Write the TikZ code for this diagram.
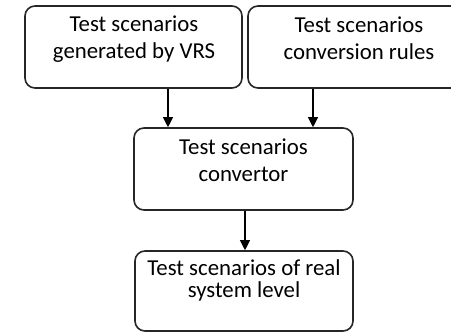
\documentclass[tikz,border=0pt]{standalone}
\usepackage{fontspec}
\setmainfont{Carlito}
\usepackage{tikz}
\usetikzlibrary{positioning}
\usetikzlibrary{arrows.meta}
\tikzset{stage/.style={ % Sets the properties for each box
			draw=black!85,
			line width=1.6pt,
			rounded corners=10pt,
			inner sep=0pt},
		stagetext/.style={
			anchor=north,
			inner sep=0pt,
			align=center,
			font=\fontsize{22.8}{27}\selectfont},
		flow/.style={
			draw,
			-{Triangle[length=10pt,width=10pt]},
			line width=1.1pt}}

\begin{document}
\begin{tikzpicture}[x=1pt,y=-1pt]
			\useasboundingbox (0,0) rectangle (451,333);
			\clip (0,0) rectangle (451,333);
			\node[stage, minimum width=217pt, minimum height=82pt] (V) at (133.5,47) {};
			\node[stage, minimum width=222pt, minimum height=82pt] (R) at (359,47) {};
			\node[stage, minimum width=219pt, minimum height=82pt] (C) at (243.5,169) {};
			\node[stage, minimum width=218pt, minimum height=80pt] (L) at (244,291) {};
			
			\node[stagetext] (Vt) at (134,16) {Test scenarios\\generated by VRS};
			\node[stagetext] (Rt) at (359,17) {Test scenarios\\conversion rules};
			\node[stagetext] (Ct) at (243.5,139) {Test scenarios\\convertor};
			\node[stagetext, font=\fontsize{22.8}{22}\selectfont] (Lt) at (244,259) {Test scenarios of real\\system level};
			
			\draw[flow] ([xshift=34.5pt]V.south) -- ([xshift=34.5pt]V.south |- C.north);
			\draw[flow] ([xshift=-46pt]R.south) -- ([xshift=-46pt]R.south |- C.north);
			\draw[flow] ([xshift=1.5pt]C.south) -- ([xshift=1.5pt]C.south |- L.north);
		\end{tikzpicture}
\end{document}
